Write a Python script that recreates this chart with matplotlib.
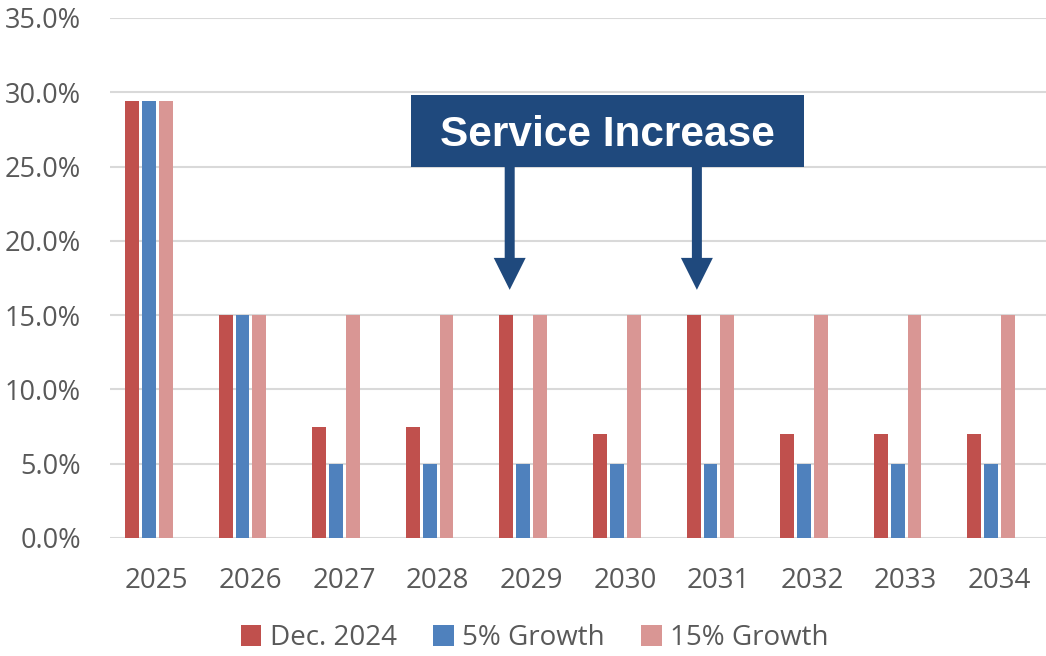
import numpy as np
import matplotlib.pyplot as plt
from matplotlib.patches import Rectangle

years = ['2025', '2026', '2027', '2028', '2029', '2030', '2031', '2032', '2033', '2034']
dec_2024 = [29.4, 15.0, 7.5, 7.5, 15.0, 7.0, 15.0, 7.0, 7.0, 7.0]
growth_5 = [29.4, 15.0, 5.0, 5.0, 5.0, 5.0, 5.0, 5.0, 5.0, 5.0]
growth_15 = [29.4, 15.0, 15.0, 15.0, 15.0, 15.0, 15.0, 15.0, 15.0, 15.0]
series_names = ['Dec. 2024', '5% Growth', '15% Growth']
colors = ['#C0504D', '#4F81BD', '#D99694']
yticks = [0, 5, 10, 15, 20, 25, 30, 35]

plt.rcParams['font.family'] = ['Open Sans', 'DejaVu Sans']
text_col = '#595959'

fig = plt.figure(figsize=(10.46, 6.56), dpi=100)
ax = fig.add_axes([0.1052, 0.180, 0.8948, 0.7926])

x = np.arange(len(years))
bw = 0.148
pitch = 0.18
shift = -0.085
for k, (vals, name, c) in enumerate(zip([dec_2024, growth_5, growth_15], series_names, colors)):
    ax.bar(x + shift + (k - 1) * pitch, vals, width=bw, color=c, label=name, zorder=3)

ax.set_xlim(-0.5, len(years) - 0.5)
ax.set_ylim(0, 35)
ax.set_yticks(yticks)
ax.set_yticklabels([f'{v:.1f}%' for v in yticks])
ax.set_xticks(x)
ax.set_xticklabels(years)
ax.tick_params(axis='y', length=0, pad=21, labelsize=19.5, labelcolor=text_col)
ax.tick_params(axis='x', length=0, pad=21, labelsize=20, labelcolor=text_col)
ax.grid(axis='y', color='#D9D9D9', linewidth=1.5, zorder=0)
for s in ax.spines.values():
    s.set_visible(False)

# annotation box + arrows
box_col = '#1F497D'
ax.add_patch(Rectangle((2.716, 25.0), 6.915 - 2.716, 4.8, facecolor=box_col,
                       edgecolor='none', zorder=5, clip_on=False))
ax.text((2.716 + 6.915) / 2, 27.1, 'Service Increase', color='white', fontsize=30.5,
        fontweight='bold', family='Liberation Sans', ha='center', va='center', zorder=6)
for ax_x in [3.77, 5.77]:
    ax.annotate('', xy=(ax_x, 16.7), xytext=(ax_x, 25.05),
                arrowprops=dict(facecolor=box_col, edgecolor='none', width=7.2,
                                headwidth=23, headlength=23, shrink=0), zorder=5)

leg = fig.legend(loc='center', bbox_to_anchor=(0.511, 0.027), ncol=3, frameon=False,
                 fontsize=20, handlelength=0.75, handleheight=0.75, handletextpad=0.3,
                 columnspacing=1.3, labelcolor=text_col, borderpad=0.2)

plt.savefig('out.png', dpi=100)
